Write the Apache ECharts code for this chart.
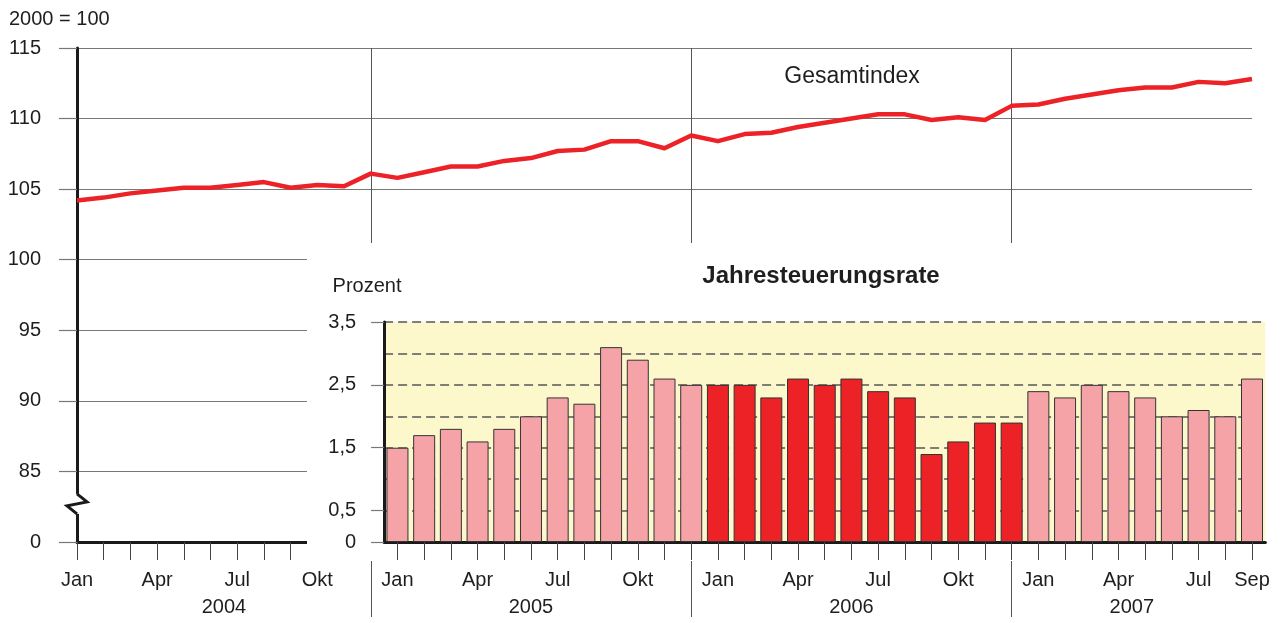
<!DOCTYPE html>
<html>
<head>
<meta charset="utf-8">
<title>Gesamtindex und Jahresteuerungsrate</title>
<script src="https://cdn.jsdelivr.net/npm/echarts@6/dist/echarts.min.js"></script>
<style>
  html, body { margin: 0; padding: 0; background: #fff; }
  #main { width: 1283px; height: 623px; }
</style>
</head>
<body>
<div id="main"></div>
<script>
// Monatsnamen und Jahre (Jan 2004 - Sep 2007)
const monthNames = ['Jan', 'Feb', 'Mär', 'Apr', 'Mai', 'Jun', 'Jul', 'Aug', 'Sep', 'Okt', 'Nov', 'Dez']
const years = ['2004', '2005', '2006', '2007']

// Gesamtindex, 2000 = 100
const index2004 = [104.2, 104.4, 104.7, 104.9, 105.1, 105.1, 105.3, 105.5, 105.1, 105.3, 105.2, 106.1]
const index2005 = [105.8, 106.2, 106.6, 106.6, 107.0, 107.2, 107.7, 107.8, 108.4, 108.4, 107.9, 108.8]
const index2006 = [108.4, 108.9, 109.0, 109.4, 109.7, 110.0, 110.3, 110.3, 109.9, 110.1, 109.9, 110.9]
const index2007 = [111.0, 111.4, 111.7, 112.0, 112.2, 112.2, 112.6, 112.5, 112.8]

// Jahresteuerungsrate in Prozent (Jan 2005 - Sep 2007)
const rate2005 = [1.5, 1.7, 1.8, 1.6, 1.8, 2.0, 2.3, 2.2, 3.1, 2.9, 2.6, 2.5]
const rate2006 = [2.5, 2.5, 2.3, 2.6, 2.5, 2.6, 2.4, 2.3, 1.4, 1.6, 1.9, 1.9]
const rate2007 = [2.4, 2.3, 2.5, 2.4, 2.3, 2.0, 2.1, 2.0, 2.6]

// Achsenbeschriftung: 80 steht fuer den Achsenbruch und wird als 0 beschriftet
const indexMin = 80
const indexMax = 115
const rateTicks = [0, 0.5, 1.5, 2.5, 3.5]
const highlightYear = '2006'

const indexData = [...index2004, ...index2005, ...index2006, ...index2007]
const rateData = [...rate2005, ...rate2006, ...rate2007]
const months = indexData.map((v, i) => monthNames[i % 12] + ' ' + years[Math.floor(i / 12)])
const rateMonths = months.slice(months.length - rateData.length)

// Jahresgrenzen (Dezember) und Mitte jedes Jahresabschnitts
const decIdx = months.map((m, i) => (m.startsWith('Dez') ? i : -1)).filter((i) => i >= 0)
const bounds = [0, ...decIdx, months.length - 1]
const yearCenters = years.map((y, k) => (bounds[k] + bounds[k + 1]) / 2)

// Layout
const font = "'Liberation Sans', Arial, Helvetica, sans-serif"
const txt = '#1e1e1e'
const plotLeft = 77
const plotRight = 1252
const plotTop = 48
const plotBottom = 542
const step = (plotRight - plotLeft) / (months.length - 1)
const insetLeft = plotLeft + step * (months.length - rateData.length) - step / 2

const chart = echarts.init(document.getElementById('main'))

chart.setOption({
  animation: false,
  textStyle: { fontFamily: font },
  grid: [
    {
      left: plotLeft,
      top: plotTop,
      width: plotRight - plotLeft,
      height: plotBottom - plotTop,
      outerBoundsMode: 'none',
    },
    {
      left: insetLeft,
      top: 322,
      width: step * rateData.length,
      height: plotBottom - 322,
      show: true,
      backgroundColor: '#fdf8cc',
      borderWidth: 0,
      borderColor: 'transparent',
      outerBoundsMode: 'none',
      z: 11,
    },
  ],
  xAxis: [
    {
      // Monatsachse (Gesamtindex)
      type: 'category',
      gridIndex: 0,
      data: months,
      boundaryGap: false,
      axisLine: { lineStyle: { color: '#1a1a1a', width: 3 } },
      axisTick: { show: true, interval: 0, length: 18, lineStyle: { color: '#444', width: 1 } },
      axisLabel: {
        interval: (i) => i % 3 === 0 || i === months.length - 1,
        formatter: (v) => v.split(' ')[0],
        margin: 28,
        fontSize: 20,
        color: txt,
      },
      splitLine: {
        show: true,
        interval: (i, v) => String(v).startsWith('Dez'),
        lineStyle: { color: '#555', width: 1 },
      },
    },
    {
      // Jahresachse
      type: 'value',
      gridIndex: 0,
      min: 0,
      max: months.length - 1,
      position: 'bottom',
      offset: 18,
      axisLine: { show: false },
      axisTick: { show: true, customValues: decIdx, length: 57, lineStyle: { color: '#555', width: 1 } },
      axisLabel: {
        customValues: yearCenters,
        formatter: (v) => years[yearCenters.indexOf(v)] || '',
        margin: 37,
        fontSize: 20,
        color: txt,
      },
      splitLine: { show: false },
    },
    {
      // Monatsachse (Jahresteuerungsrate)
      type: 'category',
      gridIndex: 1,
      data: rateMonths,
      z: 12,
      axisLine: { show: true, lineStyle: { color: '#1a1a1a', width: 3 } },
      axisTick: { show: true, interval: 0, alignWithLabel: true, length: 18, lineStyle: { color: '#444', width: 1 } },
      axisLabel: { show: true, interval: 0, color: 'rgba(0,0,0,0)', fontSize: 1 },
      splitLine: { show: false },
    },
  ],
  yAxis: [
    {
      type: 'value',
      gridIndex: 0,
      min: indexMin,
      max: indexMax,
      interval: 5,
      axisLine: { show: true, lineStyle: { color: '#1a1a1a', width: 3 } },
      axisTick: { show: true, length: 18, lineStyle: { color: '#777', width: 1.2 } },
      axisLabel: {
        formatter: (v) => (v === indexMin ? '0' : String(v)),
        margin: 36,
        fontSize: 20,
        color: txt,
      },
      splitLine: { show: true, lineStyle: { color: '#777', width: 1.2 } },
    },
    {
      // Rasterlinien der Jahresteuerungsrate (alle 0,5)
      type: 'value',
      gridIndex: 1,
      min: 0,
      max: 3.5,
      interval: 0.5,
      z: 12,
      axisLine: { show: false },
      axisTick: { show: false },
      axisLabel: { show: false },
      splitLine: { show: true, lineStyle: { color: '#555', width: 1.5, type: [9, 5] } },
    },
    {
      // beschriftete Achse der Jahresteuerungsrate
      type: 'value',
      gridIndex: 1,
      min: 0,
      max: 3.5,
      interval: 0.5,
      position: 'left',
      z: 12,
      axisLine: { show: true, lineStyle: { color: '#1a1a1a', width: 3 } },
      axisTick: { show: true, customValues: rateTicks, length: 13, lineStyle: { color: '#777', width: 1.2 } },
      axisLabel: {
        customValues: rateTicks,
        formatter: (v) => String(v).replace('.', ','),
        margin: 28,
        fontSize: 20,
        color: txt,
      },
      splitLine: { show: false },
    },
  ],
  series: [
    {
      name: 'Gesamtindex',
      type: 'line',
      xAxisIndex: 0,
      yAxisIndex: 0,
      data: indexData,
      symbol: 'none',
      z: 3,
      lineStyle: { color: '#ec2227', width: 4.5, join: 'round' },
    },
    {
      name: 'Jahresteuerungsrate',
      type: 'bar',
      xAxisIndex: 2,
      yAxisIndex: 1,
      data: rateData,
      barWidth: 22,
      z: 13,
      itemStyle: {
        color: (p) => (rateMonths[p.dataIndex].endsWith(highlightYear) ? '#ec2227' : '#f5a3a7'),
        borderColor: '#333',
        borderWidth: 1,
      },
    },
  ],
  graphic: [
    {
      // weisser Hintergrund fuer das eingesetzte Diagramm
      id: 'insetBg',
      type: 'rect',
      silent: true,
      z: 10,
      shape: { x: 307, y: 243, width: 1283 - 307, height: 561 - 243 },
      style: { fill: '#fff' },
    },
    {
      id: 'unit',
      type: 'text',
      z: 20,
      x: 9,
      y: 19,
      style: { text: '2000 = 100', font: '20px ' + font, fill: txt, align: 'left', verticalAlign: 'middle' },
    },
    {
      id: 'lineTitle',
      type: 'text',
      z: 20,
      x: 852,
      y: 77,
      style: { text: 'Gesamtindex', font: '23px ' + font, fill: txt, align: 'center', verticalAlign: 'middle' },
    },
    {
      id: 'barUnit',
      type: 'text',
      z: 20,
      x: 367,
      y: 286.5,
      style: { text: 'Prozent', font: '20px ' + font, fill: txt, align: 'center', verticalAlign: 'middle' },
    },
    {
      id: 'barTitle',
      type: 'text',
      z: 20,
      x: 821,
      y: 276,
      style: { text: 'Jahresteuerungsrate', font: 'bold 24px ' + font, fill: txt, align: 'center', verticalAlign: 'middle' },
    },
  ],
})

// Achsenbruch (Zickzack) auf der Indexachse zwischen 0 und 85
const brk = chart.convertToPixel({ gridIndex: 0 }, [0, 82.7])
chart.setOption({
  graphic: [
    {
      id: 'breakCover',
      type: 'rect',
      silent: true,
      z: 5,
      shape: { x: brk[0] - 3, y: brk[1] - 10, width: 6, height: 20 },
      style: { fill: '#fff' },
    },
    {
      id: 'breakZigzag',
      type: 'polyline',
      silent: true,
      z: 6,
      shape: {
        points: [
          [brk[0], brk[1] - 10],
          [brk[0] + 10, brk[1] - 2],
          [brk[0] - 10, brk[1] + 2],
          [brk[0], brk[1] + 10],
        ],
      },
      style: { stroke: '#1a1a1a', lineWidth: 3, fill: null },
    },
  ],
})
</script>
